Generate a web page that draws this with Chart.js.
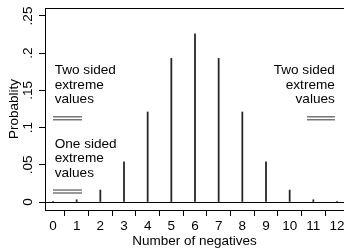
<!DOCTYPE html>
<html><head><meta charset="utf-8">
<script src="https://cdn.jsdelivr.net/npm/chart.js@4.4.1/dist/chart.umd.min.js"></script>
<style>html,body{margin:0;padding:0;background:#fff;overflow:hidden}canvas{display:block}</style>
</head><body>
<canvas id="c" width="344" height="248"></canvas>
<script>
// ---- data ----
const negatives = [0,1,2,3,4,5,6,7,8,9,10,11,12];
const probability = [0.0002,0.003,0.016,0.054,0.121,0.193,0.226,0.193,0.121,0.054,0.016,0.003,0.0002];
const xTickValues = [0,1,2,3,4,5,6,7,8,9,10,11,12];
const xTickLabels = ['0','1','2','3','4','5','6','7','8','9','10','11','12'];
const yTickValues = [0,0.05,0.10,0.15,0.20,0.25];
const yTickLabels = ['0','.05','.1','.15','.2','.25'];
const noteTexts = [['Two sided','extreme','values'],['One sided','extreme','values'],['Two sided','extreme','values']];

// ---- annotation placement (data units) ----
const notePlace = [
  {x:0.07, y:0.172, align:'left'},
  {x:0.07, y:0.0726, align:'left'},
  {x:11.91, y:0.172, align:'right'}
];
const markerSegs = [
  {x0:0, x1:1.225, y:0.1145}, {x0:0, x1:1.225, y:0.1105},
  {x0:0, x1:1.225, y:0.0161}, {x0:0, x1:1.225, y:0.0121},
  {x0:10.73, x1:11.91, y:0.1145}, {x0:10.73, x1:11.91, y:0.1105}
];

const FAMILY = "'Liberation Sans', Arial, Helvetica, sans-serif";
const AXFONT = {family:FAMILY, size:13.5};
const NOTE_SIZE = 13.6;

const markerSets = markerSegs.map(s => ({
  type:'line',
  data:[{x:s.x0,y:s.y},{x:s.x1,y:s.y}],
  borderColor:'#555', borderWidth:1.2, pointRadius:0, fill:false
}));

const framePlugin = {
  id:'frame',
  afterDatasetsDraw(chart){
    const {ctx, chartArea:a, scales} = chart;
    ctx.save();
    ctx.strokeStyle='#000'; ctx.lineWidth=1;
    ctx.beginPath(); ctx.moveTo(a.left, a.top+0.5); ctx.lineTo(a.right, a.top+0.5); ctx.stroke();
    ctx.fillStyle='#000';
    ctx.font = NOTE_SIZE+'px '+FAMILY;
    ctx.textBaseline='alphabetic';
    noteTexts.forEach((lines,i)=>{
      const p = notePlace[i];
      const px = scales.x.getPixelForValue(p.x);
      const py = scales.y.getPixelForValue(p.y);
      ctx.textAlign = p.align;
      lines.forEach((t,j)=>ctx.fillText(t, px, py + j*14.5));
    });
    ctx.restore();
  }
};

new Chart(document.getElementById('c'), {
  type:'bar',
  data:{
    datasets:[{
      type:'bar',
      data: negatives.map((n,i)=>({x:n, y:probability[i]})),
      backgroundColor:'#222', borderWidth:0, barThickness:1.1
    }, ...markerSets]
  },
  options:{
    responsive:false, animation:false,
    layout:{padding:{top:8,left:0,right:0,bottom:0}},
    plugins:{legend:{display:false}, tooltip:{enabled:false}},
    scales:{
      x:{
        type:'linear', min:-0.338, max:12.296, offset:false,
        afterBuildTicks: s => { s.ticks = xTickValues.map(v=>({value:v})); },
        afterFit: s => { s.height = 38; s.paddingLeft = 0; s.paddingRight = 0; },
        ticks:{ color:'#000', font:AXFONT, padding:2.5, maxRotation:0, autoSkip:false,
          callback:(v)=> xTickLabels[xTickValues.indexOf(v)] },
        grid:{ drawOnChartArea:false, drawTicks:true, tickLength:6, tickColor:'#000' },
        border:{ display:true, color:'#000', width:1 },
        title:{ display:true, text:'Number of negatives', color:'#000', font:{...AXFONT, lineHeight:1}, padding:{top:0,bottom:0} }
      },
      y:{
        type:'linear', min:-0.01075, max:0.26075,
        afterBuildTicks: s => { s.ticks = yTickValues.map(v=>({value:v})); },
        afterFit: s => { s.width = 45; s.paddingTop = 0; s.paddingBottom = 0; },
        ticks:{ color:'#000', font:AXFONT, padding:1, minRotation:90, maxRotation:90, crossAlign:'center',
          callback:(v)=> { const i = yTickValues.findIndex(t=>Math.abs(t-v)<1e-9); return i<0?'':yTickLabels[i]; } },
        grid:{ drawOnChartArea:true, drawTicks:true, tickLength:6, tickColor:'#000',
          color: c => (c.tick && Math.abs(c.tick.value)<1e-9) ? '#000' : 'rgba(0,0,0,0)', lineWidth:1 },
        border:{ display:true, color:'#000', width:1 },
        title:{ display:true, text:'Probablity', color:'#000', font:{...AXFONT, lineHeight:1}, padding:{top:8,bottom:0} }
      }
    }
  },
  plugins:[framePlugin]
});
</script>
</body></html>
